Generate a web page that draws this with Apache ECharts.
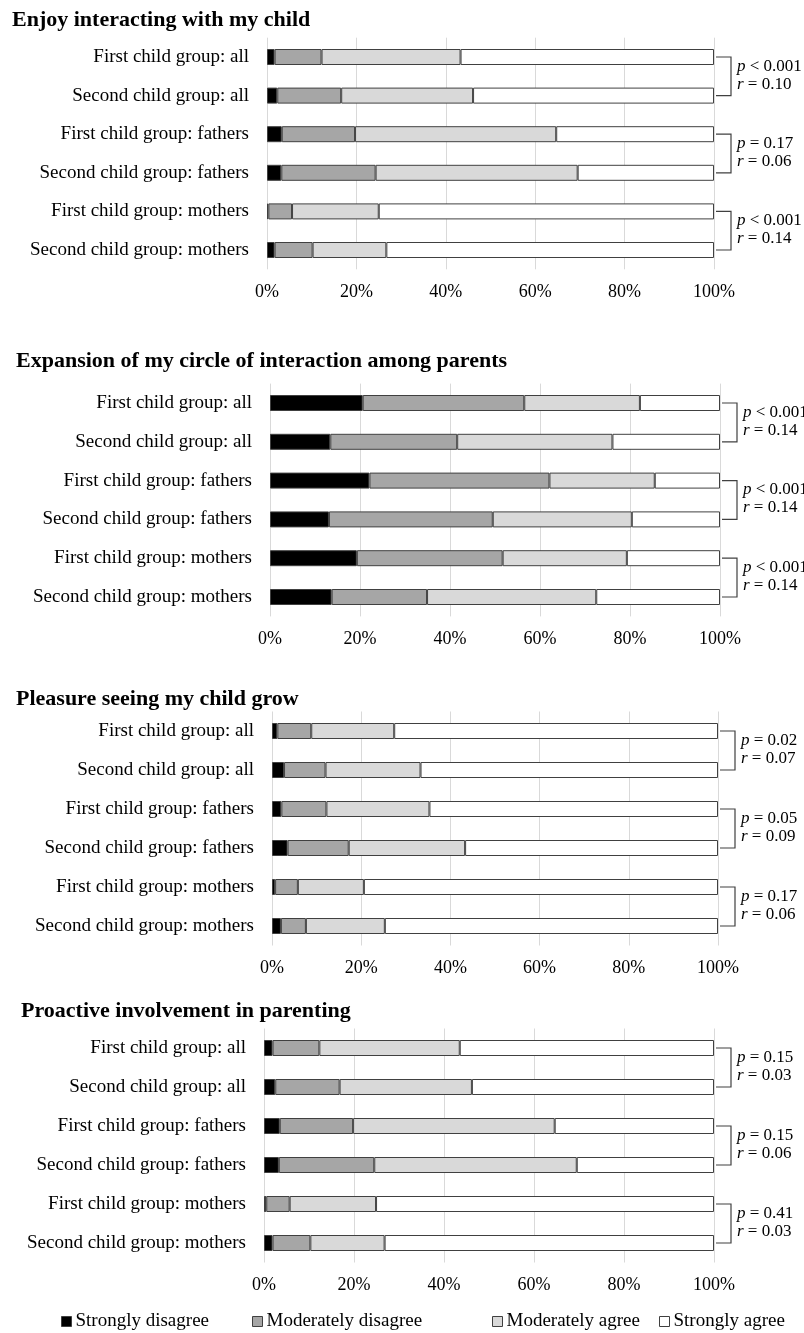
<!DOCTYPE html>
<html>
<head>
<meta charset="utf-8">
<script src="https://cdn.jsdelivr.net/npm/echarts@6/dist/echarts.min.js"></script>
<style>
html,body{margin:0;padding:0;background:#fff;}
#chart{width:804px;height:1333px;}
</style>
</head>
<body>
<div id="chart"></div>
<script>
const categories = ['First child group: all', 'Second child group: all', 'First child group: fathers', 'Second child group: fathers', 'First child group: mothers', 'Second child group: mothers'];
const seriesNames = ['Strongly disagree', 'Moderately disagree', 'Moderately agree', 'Strongly agree'];
const panelTitles = ['Enjoy interacting with my child', 'Expansion of my circle of interaction among parents', 'Pleasure seeing my child grow', 'Proactive involvement in parenting'];
const tickValues = [0, 20, 40, 60, 80, 100];

// Panel 1: Enjoy interacting with my child
const enjoySD = [1.7, 2.3, 3.3, 3.2, 0.3, 1.7];
const enjoyMD = [10.5, 14.3, 16.4, 21.1, 5.3, 8.5];
const enjoyMA = [31.1, 29.5, 45.0, 45.2, 19.4, 16.5];
const enjoySA = [56.7, 53.9, 35.3, 30.5, 75.0, 73.3];
// Panel 2: Expansion of my circle of interaction among parents
const expansionSD = [20.6, 13.4, 22.1, 13.1, 19.3, 13.7];
const expansionMD = [35.9, 28.2, 40.0, 36.4, 32.4, 21.2];
const expansionMA = [25.7, 34.5, 23.4, 30.9, 27.6, 37.6];
const expansionSA = [17.8, 23.9, 14.5, 19.6, 20.7, 27.5];
// Panel 3: Pleasure seeing my child grow
const pleasureSD = [1.2, 2.7, 2.1, 3.5, 0.7, 2.0];
const pleasureMD = [7.6, 9.3, 10.1, 13.7, 5.1, 5.6];
const pleasureMA = [18.6, 21.3, 23.1, 26.1, 14.8, 17.7];
const pleasureSA = [72.6, 66.7, 64.7, 56.7, 79.4, 74.7];
// Panel 4: Proactive involvement in parenting
const proactiveSD = [1.9, 2.5, 3.5, 3.3, 0.5, 1.9];
const proactiveMD = [10.4, 14.3, 16.3, 21.2, 5.2, 8.4];
const proactiveMA = [31.2, 29.4, 44.8, 45.0, 19.2, 16.5];
const proactiveSA = [56.5, 53.8, 35.4, 30.5, 75.1, 73.2];

// statistics per panel, per pair of rows: [p relation, p value, r value]
const enjoyStats = [['<', '0.001', '0.10'], ['=', '0.17', '0.06'], ['<', '0.001', '0.14']];
const expansionStats = [['<', '0.001', '0.14'], ['<', '0.001', '0.14'], ['<', '0.001', '0.14']];
const pleasureStats = [['=', '0.02', '0.07'], ['=', '0.05', '0.09'], ['=', '0.17', '0.06']];
const proactiveStats = [['=', '0.15', '0.03'], ['=', '0.15', '0.06'], ['=', '0.41', '0.03']];

const panelData = [
  [enjoySD, enjoyMD, enjoyMA, enjoySA],
  [expansionSD, expansionMD, expansionMA, expansionSA],
  [pleasureSD, pleasureMD, pleasureMA, pleasureSA],
  [proactiveSD, proactiveMD, proactiveMA, proactiveSA]
];
const panelStats = [enjoyStats, expansionStats, pleasureStats, proactiveStats];

const FONT = "'Liberation Serif', 'DejaVu Serif', serif";
const colors = ['#000000', '#a6a6a6', '#d9d9d9', '#ffffff'];
const borderCol = '#404040';

// layout (pixels)
const gridLayout = [
  {left: 267, width: 447, top: 37.7, height: 231.6, titleLeft: 7, titleTop: 4},
  {left: 270, width: 450, top: 383.6, height: 232.8, titleLeft: 11, titleTop: 345},
  {left: 272, width: 446, top: 711.5, height: 234, titleLeft: 11, titleTop: 683},
  {left: 264, width: 450, top: 1028.5, height: 234, titleLeft: 16, titleTop: 995}
];

const chart = echarts.init(document.getElementById('chart'), null, {renderer: 'canvas'});

const grids = [], xAxes = [], yAxes = [], series = [], titles = [];
gridLayout.forEach((g, k) => {
  grids.push({left: g.left, width: g.width, top: g.top, height: g.height, containLabel: false});
  titles.push({
    text: panelTitles[k], left: g.titleLeft, top: g.titleTop,
    textStyle: {fontFamily: FONT, fontSize: 22, fontWeight: 'bold', color: '#000'}
  });
  xAxes.push({
    type: 'value', gridIndex: k, min: tickValues[0], max: tickValues[tickValues.length - 1],
    interval: tickValues[1] - tickValues[0],
    axisLine: {show: false}, axisTick: {show: false},
    splitLine: {show: true, lineStyle: {color: '#d9d9d9', width: 1}},
    axisLabel: {formatter: '{value}%', fontFamily: FONT, fontSize: 18, color: '#000', margin: 14}
  });
  yAxes.push({
    type: 'category', gridIndex: k, data: categories, inverse: true,
    axisLine: {show: false}, axisTick: {show: false}, splitLine: {show: false},
    axisLabel: {fontFamily: FONT, fontSize: 19, color: '#000', margin: 18}
  });
  seriesNames.forEach((name, s) => {
    series.push({
      name: name, type: 'bar', stack: 'panel' + k, xAxisIndex: k, yAxisIndex: k,
      barWidth: 16, data: panelData[k][s],
      itemStyle: {color: colors[s], borderColor: borderCol, borderWidth: 1},
      emphasis: {disabled: true}, animation: false
    });
  });
});

const legendLefts = [61, 252, 492, 659];
const legends = seriesNames.map((name, s) => ({
  data: [name], left: legendLefts[s], top: 1312, icon: 'rect', padding: 0,
  itemWidth: 10, itemHeight: 10, itemGap: 0, selectedMode: false,
  itemStyle: {borderColor: borderCol, borderWidth: 1},
  textStyle: {fontFamily: FONT, fontSize: 19, color: '#000', padding: [0, 0, 0, -1]}
}));

chart.setOption({
  backgroundColor: '#fff',
  animation: false,
  title: titles,
  grid: grids,
  xAxis: xAxes,
  yAxis: yAxes,
  legend: legends,
  series: series
});

// brackets and statistics positioned through the axes
const graphics = [];
panelStats.forEach((stats, k) => {
  stats.forEach((st, pIdx) => {
    const a = chart.convertToPixel({gridIndex: k}, [100, categories[pIdx * 2]]);
    const b = chart.convertToPixel({gridIndex: k}, [100, categories[pIdx * 2 + 1]]);
    const x0 = a[0] + 2, x1 = a[0] + 17;
    graphics.push({
      type: 'polyline', silent: true,
      shape: {points: [[x0, a[1]], [x1, a[1]], [x1, b[1]], [x0, b[1]]]},
      style: {stroke: borderCol, lineWidth: 1.2, fill: null}
    });
    const mid = (a[1] + b[1]) / 2;
    graphics.push({
      type: 'text', silent: true, x: x1 + 6, y: mid - 10,
      style: {
        text: '{i|p} ' + st[0] + ' ' + st[1], verticalAlign: 'middle', fill: '#000',
        font: '17px ' + FONT,
        rich: {i: {fontStyle: 'italic', fontFamily: FONT, fontSize: 17}}
      }
    });
    graphics.push({
      type: 'text', silent: true, x: x1 + 6, y: mid + 8,
      style: {
        text: '{i|r} = ' + st[2], verticalAlign: 'middle', fill: '#000',
        font: '17px ' + FONT,
        rich: {i: {fontStyle: 'italic', fontFamily: FONT, fontSize: 17}}
      }
    });
  });
});
chart.setOption({graphic: graphics});
</script>
</body>
</html>
